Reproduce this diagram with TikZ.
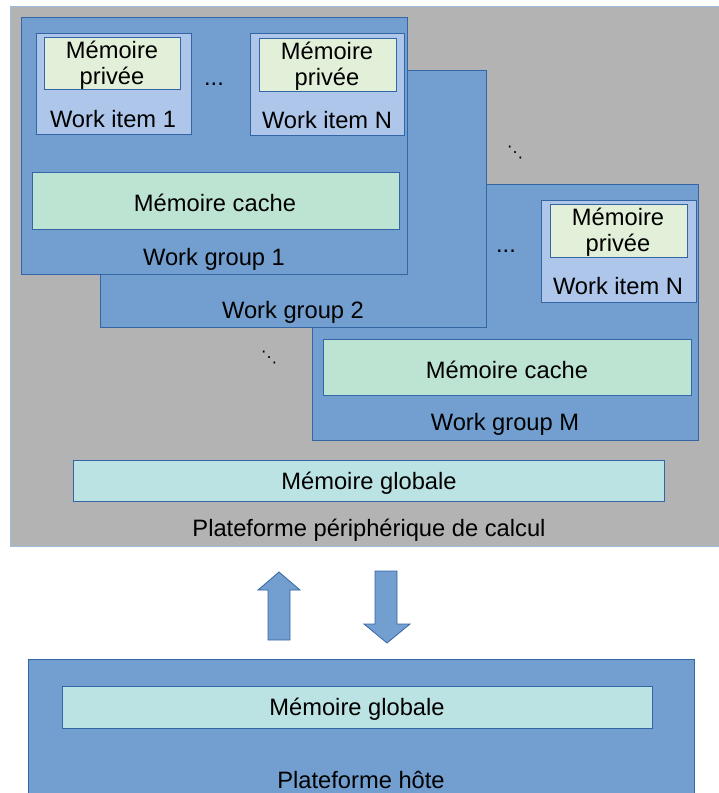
\documentclass[tikz,border=0pt]{standalone}
\usepackage{fontspec}
\setmainfont{Liberation Sans}
\newfontfamily\dejavu{DejaVu Sans}
\usetikzlibrary{fit}
\definecolor{bgray}{HTML}{B3B3B3}
\definecolor{wgblue}{HTML}{729FCF}
\definecolor{edgeblue}{HTML}{3465A4}
\definecolor{wiblue}{HTML}{ADC6E9}
\definecolor{privgreen}{HTML}{E2EFD9}
\definecolor{cachegreen}{HTML}{BDE3D3}
\definecolor{globcyan}{HTML}{BCE3E3}
\begin{document}
\begin{tikzpicture}[x=1pt,y=-1pt,
  box/.style={draw=edgeblue, line width=0.9pt, inner sep=0pt},
  wg/.style={box, fill=wgblue},
  wi/.style={box, fill=wiblue},
  priv/.style={box, fill=privgreen},
  cache/.style={box, fill=cachegreen},
  glob/.style={box, fill=globcyan},
  lbl/.style={font=\fontsize{23.7}{26.5}\selectfont, align=center, inner sep=0pt},
  dots/.style={font=\fontsize{23.7}{27}\selectfont, inner sep=0pt},
  ddots/.style={font=\dejavu\fontsize{16}{18}\selectfont, inner sep=0pt},
  bigarrow/.style={draw=edgeblue, line width=0.8pt, fill=wgblue}]
\useasboundingbox (0,0) rectangle (718,793);
% device platform
\node[box, draw=wgblue!70, fill=bgray, fit={(10,6)(722,546)}] (dev) {};
% work group M
\node[wg, fit={(312,184)(698,440)}] (wgM) {};
\node[wi, fit={(541,200)(696,302)}] (wiMN) {};
\node[priv, fit={(550,204)(687,257)}] (pMN) {};
\node[lbl] at (618,232) {Mémoire\\privée};
\node[lbl] at (618,286) {Work item N};
\node[dots] (dM) at (506,251) {...};
\node[cache, fit={(323,339)(691,395)}] (cM) {};
\node[lbl] at (507,370) {Mémoire cache};
\node[lbl] (lM) at (505,424) {Work group M};
% work group 2
\node[wg, fit={(100,70)(486,327)}] (wg2) {};
\node[lbl] (l2) at (293,312) {Work group 2};
% work group 1
\node[wg, fit={(21,17)(407,274)}] (wg1) {};
\node[wi, fit={(36,33)(191,134)}] (wi1) {};
\node[priv, fit={(44,37)(180,89)}] (p1) {};
\node[lbl] at (112,65) {Mémoire\\privée};
\node[lbl] at (113,119) {Work item 1};
\node[wi, fit={(250,33)(404,135)}] (wiN) {};
\node[priv, fit={(259,38)(396,91)}] (pN) {};
\node[lbl] at (327,66) {Mémoire\\privée};
\node[lbl] at (327,120) {Work item N};
\node[dots] (d1) at (214,84) {...};
\node[cache, fit={(32,172)(399,229)}] (c1) {};
\node[lbl] at (215,203) {Mémoire cache};
\node[lbl] (l1) at (214,259) {Work group 1};
% diagonal dots
\node[ddots] (dd1) at (515,153) {⋱};
\node[ddots] (dd2) at (269,358) {⋱};
% global memory
\node[glob, fit={(73,460)(664,501)}] (g1) {};
\node[lbl] at (369,483) {Mémoire globale};
\node[lbl] (ldev) at (369,530) {Plateforme périphérique de calcul};
% arrows
\draw[bigarrow] (268,640) -- (268,590) -- (258,590) -- (279,572) -- (300,590) -- (290,590) -- (290,640) -- cycle;
\draw[bigarrow] (375,571) -- (397,571) -- (397,624) -- (410,624) -- (387,643) -- (364,624) -- (375,624) -- cycle;
% host
\node[wg, fit={(28,659)(694,800)}] (host) {};
\node[glob, fit={(62,686)(652,728)}] (g2) {};
\node[lbl] at (357,709) {Mémoire globale};
\node[lbl] (lhost) at (361,780) {Plateforme hôte};
\end{tikzpicture}
\end{document}
